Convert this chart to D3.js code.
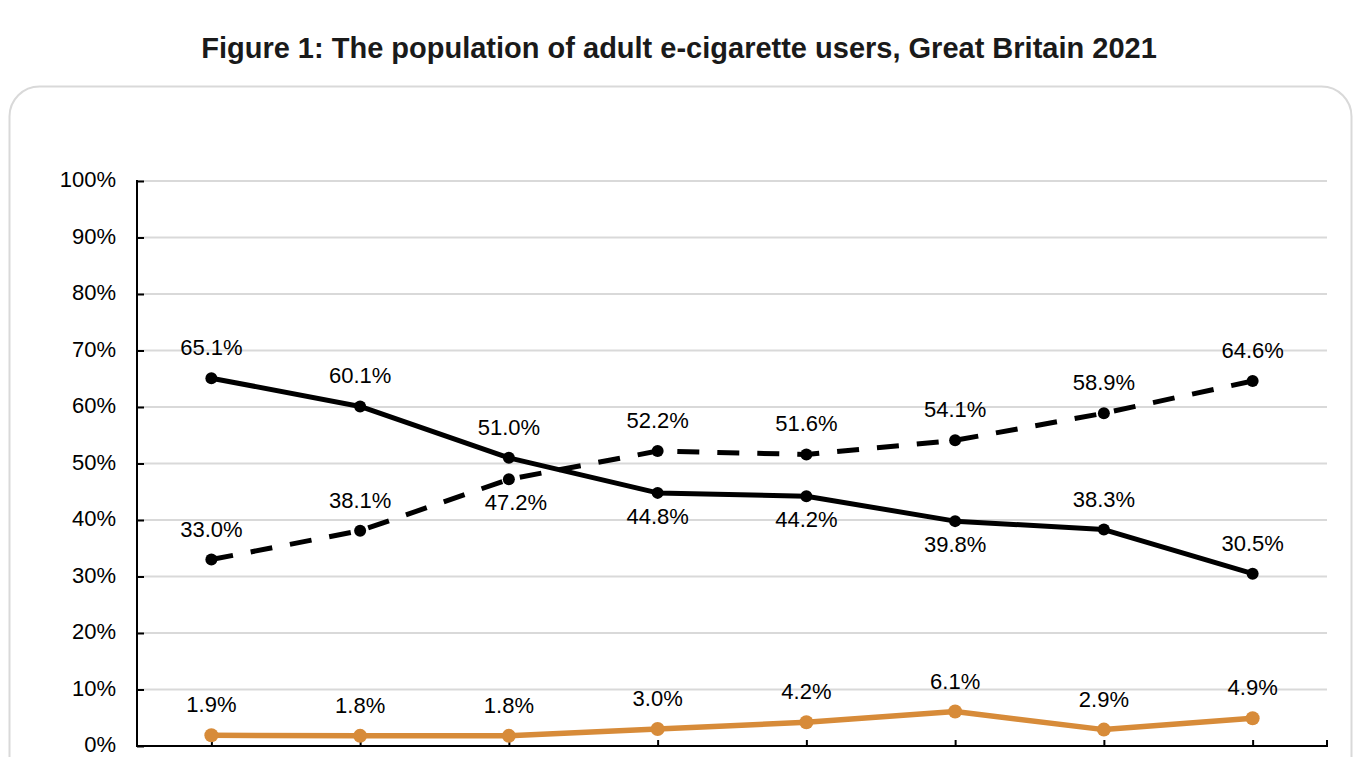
<!DOCTYPE html>
<html>
<head>
<meta charset="utf-8">
<script src="https://cdn.jsdelivr.net/npm/d3@7"></script>
<style>
  html, body { margin: 0; padding: 0; background: #ffffff; overflow: hidden; }
  svg { display: block; font-family: "Liberation Sans", Arial, Helvetica, sans-serif; }
</style>
</head>
<body>
<svg id="chart" width="1362" height="757"></svg>
<script>
// ---- Data ----
const title = "Figure 1: The population of adult e-cigarette users, Great Britain 2021";
const years = ["2014", "2015", "2016", "2017", "2018", "2019", "2020", "2021"];
const currentSmokers = [65.1, 60.1, 51.0, 44.8, 44.2, 39.8, 38.3, 30.5];
const exSmokers = [33.0, 38.1, 47.2, 52.2, 51.6, 54.1, 58.9, 64.6];
const neverSmokers = [1.9, 1.8, 1.8, 3.0, 4.2, 6.1, 2.9, 4.9];
const yTicks = [0, 10, 20, 30, 40, 50, 60, 70, 80, 90, 100];
// label side for each point: 1 = above, -1 = below
const currentLabelSide = [1, 1, 1, -1, -1, -1, 1, 1];
const exLabelSide = [1, 1, -1, 1, 1, 1, 1, 1];
const neverLabelSide = [1, 1, 1, 1, 1, 1, 1, 1];

// ---- Layout ----
const svg = d3.select("#chart");
const plot = { left: 137, right: 1327, top: 181, bottom: 746 };

const x = d3.scalePoint().domain(years).range([plot.left, plot.right]).padding(0.5);
const y = d3.scaleLinear().domain([0, 100]).range([plot.bottom, plot.top]);

// Title
svg.append("text")
  .attr("x", 679).attr("y", 58)
  .attr("text-anchor", "middle")
  .attr("font-size", 29).attr("font-weight", "bold")
  .attr("fill", "#1a1a1a")
  .text(title);

// Rounded frame
svg.append("rect")
  .attr("x", 9.5).attr("y", 86.5)
  .attr("width", 1342).attr("height", 760)
  .attr("rx", 30).attr("ry", 30)
  .attr("fill", "none").attr("stroke", "#d9d9d9").attr("stroke-width", 2);

// Gridlines
svg.append("g")
  .selectAll("line")
  .data(yTicks.filter(d => d > 0))
  .join("line")
  .attr("x1", plot.left).attr("x2", plot.right)
  .attr("y1", d => y(d)).attr("y2", d => y(d))
  .attr("stroke", "#d9d9d9").attr("stroke-width", 2);

// Y axis (ticks pointing inward)
const yAxis = d3.axisRight(y).tickValues(yTicks).tickSize(7).tickFormat("");
const yg = svg.append("g").attr("transform", `translate(${plot.left},0)`).call(yAxis);
yg.select(".domain").remove();
yg.selectAll(".tick line").attr("stroke", "#000").attr("stroke-width", 2);
svg.append("line")
  .attr("x1", plot.left).attr("x2", plot.left)
  .attr("y1", plot.top - 1).attr("y2", plot.bottom + 1)
  .attr("stroke", "#000").attr("stroke-width", 2);

// Y tick labels
svg.append("g")
  .selectAll("text")
  .data(yTicks)
  .join("text")
  .attr("x", 116).attr("y", d => y(d) + 6)
  .attr("text-anchor", "end")
  .attr("font-size", 22).attr("fill", "#000")
  .text(d => d + "%");

// X axis (ticks pointing inward, at points plus right end)
const xAxis = d3.axisTop(x).tickSize(6).tickFormat("");
const xg = svg.append("g").attr("transform", `translate(0,${plot.bottom})`).call(xAxis);
xg.select(".domain").remove();
xg.selectAll(".tick line").attr("stroke", "#000").attr("stroke-width", 2);
svg.append("line")
  .attr("x1", plot.right).attr("x2", plot.right)
  .attr("y1", plot.bottom - 6).attr("y2", plot.bottom)
  .attr("stroke", "#000").attr("stroke-width", 2);
svg.append("line")
  .attr("x1", plot.left - 1).attr("x2", plot.right + 1)
  .attr("y1", plot.bottom).attr("y2", plot.bottom)
  .attr("stroke", "#000").attr("stroke-width", 2);

// Series
const series = [
  { name: "Current smokers", values: currentSmokers, sides: currentLabelSide, color: "#000000", width: 5, dash: null, r: 6 },
  { name: "Ex-smokers", values: exSmokers, sides: exLabelSide, color: "#000000", width: 5, dash: "22 18", r: 6 },
  { name: "Never smokers", values: neverSmokers, sides: neverLabelSide, color: "#d78b39", width: 5.5, dash: null, r: 7 }
];

const line = d3.line().x(d => x(d.year)).y(d => y(d.value));

series.forEach(s => {
  const pts = years.map((yr, i) => ({ year: yr, value: s.values[i], side: s.sides[i] }));
  const g = svg.append("g");
  g.append("path")
    .datum(pts)
    .attr("d", line)
    .attr("fill", "none")
    .attr("stroke", s.color)
    .attr("stroke-width", s.width)
    .attr("stroke-linejoin", "round")
    .attr("stroke-dasharray", s.dash);
  g.selectAll("circle")
    .data(pts)
    .join("circle")
    .attr("cx", d => x(d.year)).attr("cy", d => y(d.value))
    .attr("r", s.r)
    .attr("fill", s.color);
  g.selectAll("text")
    .data(pts)
    .join("text")
    .attr("x", d => x(d.year) + (d.side < 0 && s.name === "Ex-smokers" ? 7 : 0))
    .attr("y", d => d.side > 0 ? y(d.value) - 23 : y(d.value) + 31)
    .attr("text-anchor", "middle")
    .attr("font-size", 22).attr("fill", "#000")
    .text(d => d.value.toFixed(1) + "%");
});
</script>
</body>
</html>
